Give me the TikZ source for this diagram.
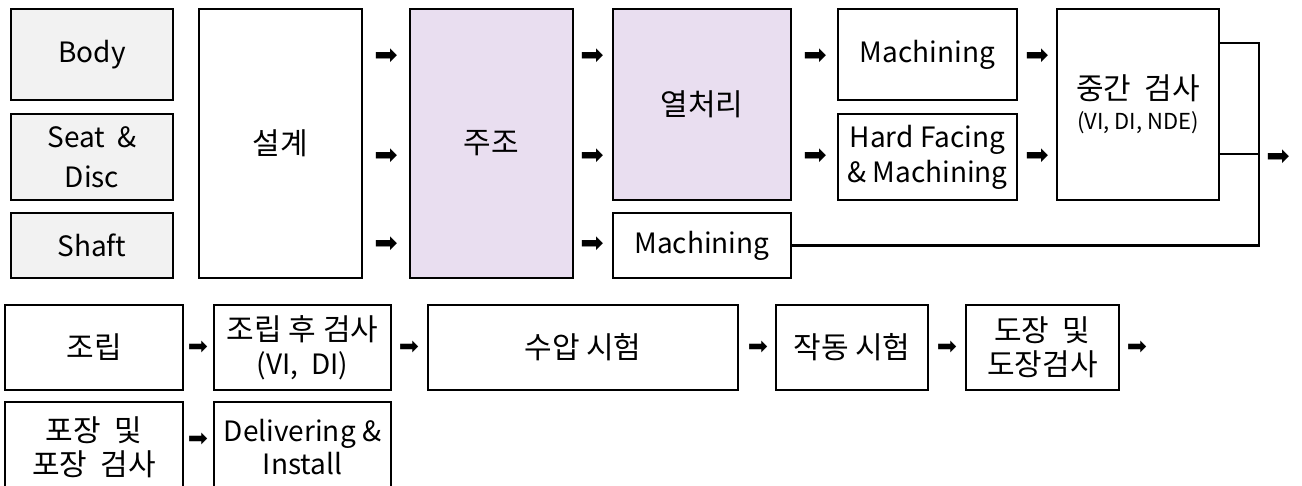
\documentclass[tikz,border=0pt]{standalone}
\usepackage{fontspec}
\setmainfont{Noto Sans CJK KR}
\newfontfamily\arrowfont{DejaVu Sans}
\definecolor{partgray}{RGB}{242,242,242}
\definecolor{castpurple}{RGB}{233,222,240}
\tikzset{
  box/.style={draw, line width=2.2pt, align=center, inner sep=0pt, font=\fontsize{28}{37}\selectfont},
  kor/.style={font=\fontsize{30}{34}\selectfont},
  go/.style={inner sep=0pt, font=\arrowfont\fontsize{28}{28}\selectfont},
  gosmall/.style={go, font=\arrowfont\fontsize{24}{24}\selectfont},
}

\begin{document}
\begin{tikzpicture}[x=1pt,y=-1pt]
	\useasboundingbox (0,0) rectangle (1302,485);
	% first row
	\node[box, fill=partgray, minimum width=162, minimum height=91] (1) at (92,54.5) {Body};
	\node[box, fill=partgray, minimum width=162, minimum height=86, font=\fontsize{28}{40}\selectfont] (2) at (92,157) {Seat \ \&\\ Disc};
	\node[box, fill=partgray, minimum width=162, minimum height=65] (3) at (92,245.5) {Shaft};
	\node[box, kor, minimum width=163, minimum height=269] (4) at (280.5,143.5) {설계};
	\node[box, kor, fill=castpurple, minimum width=163, minimum height=269] (5) at (491.5,143.5) {주조};
	\node[box, kor, fill=castpurple, minimum width=178, minimum height=191] (6) at (702,104.5) {열처리};
	\node[box, minimum width=178, minimum height=65] (7) at (702,245.5) {Machining};
	\node[box, minimum width=179, minimum height=91] (8) at (927.5,54.5) {Machining};
	\node[box, minimum width=179, minimum height=86, font=\fontsize{28}{35}\selectfont] (9) at (927.5,157) {Hard Facing\\\& Machining};
	\node[box, kor, minimum width=162, minimum height=191] (10) at (1138,104.5) {중간 \ 검사\\[-4pt]{\fontsize{22}{24}\selectfont (VI, DI, NDE)}};
	% second and third rows
	\node[box, kor, minimum width=178, minimum height=85] (11) at (94,347.5) {조립};
	\node[box, kor, minimum width=177, minimum height=85] (12) at (302.5,347.5) {조립 후 검사\\{\fontsize{28}{30}\selectfont (VI, \ DI)}};
	\node[box, kor, minimum width=310, minimum height=85] (13) at (583,347.5) {수압 시험};
	\node[box, kor, minimum width=152, minimum height=85] (14) at (852,347.5) {작동 시험};
	\node[box, kor, minimum width=153, minimum height=85] (15) at (1042.5,347.5) {도장 \ 및\\도장검사};
	\node[box, kor, minimum width=178, minimum height=90] (16) at (94,447) {포장 \ 및\\포장 \ 검사};
	\node[box, minimum width=177, minimum height=90, font=\fontsize{28}{33}\selectfont] (17) at (302.5,447) {Delivering \&\\Install};
	%
	\foreach \ax/\ay in {386/57, 386/157, 386/245, 592/57, 592/157, 592/245, 815/57, 815/157, 1037/57, 1037/157, 1278/158}
		\node[go] at (\ax,\ay) {➡};
	\foreach \ax/\ay in {198/348, 409/348, 758/348, 947/348, 1137/348, 198/440}
		\node[gosmall] at (\ax,\ay) {➡};
	%
	\coordinate (j1) at (1259,43);
	\coordinate (j2) at (1259,154);
	\draw [line width=2.2pt] (10.east |- j1) -- (j1) |- (7.east);
	\draw [line width=2.2pt] (10.east |- j2) -- (j2);
\end{tikzpicture}
\end{document}
